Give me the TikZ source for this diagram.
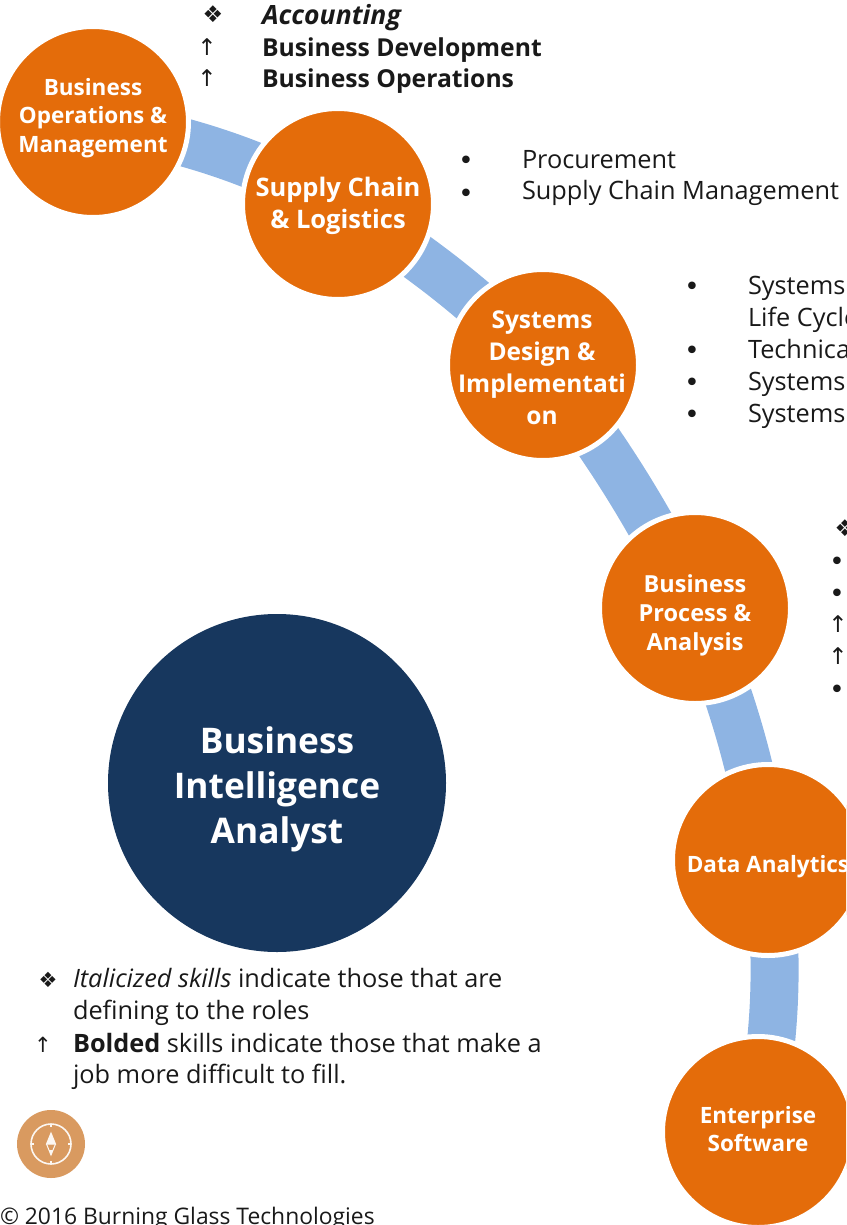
\documentclass[tikz,border=0pt]{standalone}
\usepackage{fontspec}
\setmainfont{Open Sans}
\newfontfamily\symfont{DejaVu Sans}
\usetikzlibrary{backgrounds}
\definecolor{orangeC}{HTML}{E46C0A}
\definecolor{navyC}{HTML}{17375E}
\definecolor{bandC}{HTML}{8EB4E3}
\definecolor{iconC}{HTML}{D99A60}
\colorlet{iconW}{white!92!iconC}
\tikzset{
  x=1pt,y=-1pt,
  skill/.style={circle,fill=orangeC,draw=white,line width=5pt,minimum size=191pt,inner sep=0pt,outer sep=0pt},
  lab/.style={inner sep=0pt,outer sep=0pt,align=center,text=white},
  fsA/.style={font=\fontsize{22.5}{28.5}\selectfont\bfseries},
  fsD/.style={font=\fontsize{23.5}{29}\selectfont\bfseries},
  fsB/.style={font=\fontsize{25.5}{32}\selectfont\bfseries},
  fsC/.style={font=\fontsize{24.5}{32}\selectfont\bfseries},
  band/.style={draw=bandC,line width=48pt},
  txt/.style={anchor=base west,inner sep=0pt,outer sep=0pt,text=black!90,font=\fontsize{25.3}{32}\selectfont},
  btxt/.style={txt,font=\fontsize{24.7}{32}\selectfont\bfseries},
  sym/.style={anchor=base,inner sep=0pt,outer sep=0pt,text=black!90,font=\fontsize{23}{24}\symfont},
  dot/.style={sym,font=\fontsize{26}{28}\symfont},
}
\begin{document}
\begin{tikzpicture}
\clip (0,0) rectangle (846,1225);
\node[skill] (a) at (93,122) {};
\node[skill] (b) at (338,204) {};
\node[skill] (c) at (543,365) {};
\node[skill] (d) at (695,608) {};
\node[skill] (e) at (768,860) {};
\node[skill] (f) at (758,1132) {};
\node[lab,fsA] (al) at (93,118) {Business\\Operations \&\\Management};
\node[lab,fsB] (bl) at (338,206) {Supply Chain\\\& Logistics};
\node[lab,fsC] (cl) at (542,368) {Systems\\Design \&\\Implementati\\on};
\node[lab,fsD] (dl) at (695,615) {Business\\Process \&\\Analysis};
\node[lab,fsA] (el) at (768,867) {Data Analytics};
\node[lab,fsA] (fl) at (758,1129) {Enterprise\\Software};
\begin{scope}[on background layer]
\draw[band] (a.center) to[bend left=8] (b.center);
\draw[band] (b.center) to[bend left=6] (c.center);
\draw[band] (c.center) to[bend left=5] (d.center);
\draw[band] (d.center) to[bend left=6] (e.center);
\draw[band] (e.center) to[bend left=8] (f.center);
\end{scope}
\node[circle,fill=navyC,minimum size=338pt,inner sep=0pt,outer sep=0pt] (main) at (277,783) {};
\node[lab,font=\fontsize{35.3}{45}\selectfont\bfseries] (mainl) at (277,789.5) {Business\\Intelligence\\Analyst};

\node[sym] (s1) at (213,23) {❖};
\node[sym] (s2) at (207,56) {↑};
\node[sym] (s3) at (207,87) {↑};
\node[btxt,font=\fontsize{26.5}{32}\selectfont\bfseries\itshape] (t1) at (262,25) {Accounting};
\node[btxt] (t2) at (262,57) {Business Development};
\node[btxt] (t3) at (262,88) {Business Operations};

\node[dot] (p1) at (466,170) {•};
\node[dot] (p2) at (466,202) {•};
\node[txt] (pt1) at (522,168) {Procurement};
\node[txt] (pt2) at (522,200) {Supply Chain Management};

\node[dot] (q1) at (692,295) {•};
\node[dot] (q2) at (692,359) {•};
\node[dot] (q3) at (692,391) {•};
\node[dot] (q4) at (692,423) {•};
\node[txt] (qt1) at (748,294) {Systems};
\node[txt] (qt2) at (748,326) {Life Cycle};
\node[txt] (qt3) at (748,358) {Technical};
\node[txt] (qt4) at (748,390) {Systems};
\node[txt] (qt5) at (748,422) {Systems};

\node[sym] (r1) at (845,536) {❖};
\node[dot] (r2) at (837,570) {•};
\node[dot] (r3) at (837,602) {•};
\node[sym] (r4) at (838,632) {↑};
\node[sym] (r5) at (838,664) {↑};
\node[dot] (r6) at (837,698) {•};

\node[sym,font=\fontsize{21}{24}\symfont] (l1) at (48,987) {❖};
\node[sym,font=\fontsize{21}{24}\symfont] (l2) at (43,1052) {↑};
\node[txt] (lt1) at (73,987) {\textit{Italicized skills} indicate those that are};
\node[txt] (lt2) at (73,1019) {defining to the roles};
\node[txt] (lt3) at (73,1052) {\textbf{Bolded} skills indicate those that make a};
\node[txt] (lt4) at (73,1083) {job more difficult to fill.};

\node[circle,fill=iconC,minimum size=68pt,inner sep=0pt,outer sep=0pt] (icon) at (51,1144) {};
\draw[iconW,line width=1.6pt] (icon.center) circle[radius=20];
\draw[iconW,line width=1pt,fill=iconW] (51,1133) -- (55.5,1144) -- (46.5,1144) -- cycle;
\draw[iconW,line width=1pt] (46.5,1144) -- (51,1155) -- (55.5,1144);
\fill[iconW] (48.8,1150) -- (53.2,1150) -- (51,1155) -- cycle;
\foreach \ang in {0,90,180,270}{\draw[iconW,line width=1.2pt] (icon.center) ++(\ang:17) -- ++(\ang:3);}

\node[txt,font=\fontsize{22.85}{24}\selectfont] (copy) at (0,1224) {© 2016 Burning Glass Technologies};
\end{tikzpicture}
\end{document}
